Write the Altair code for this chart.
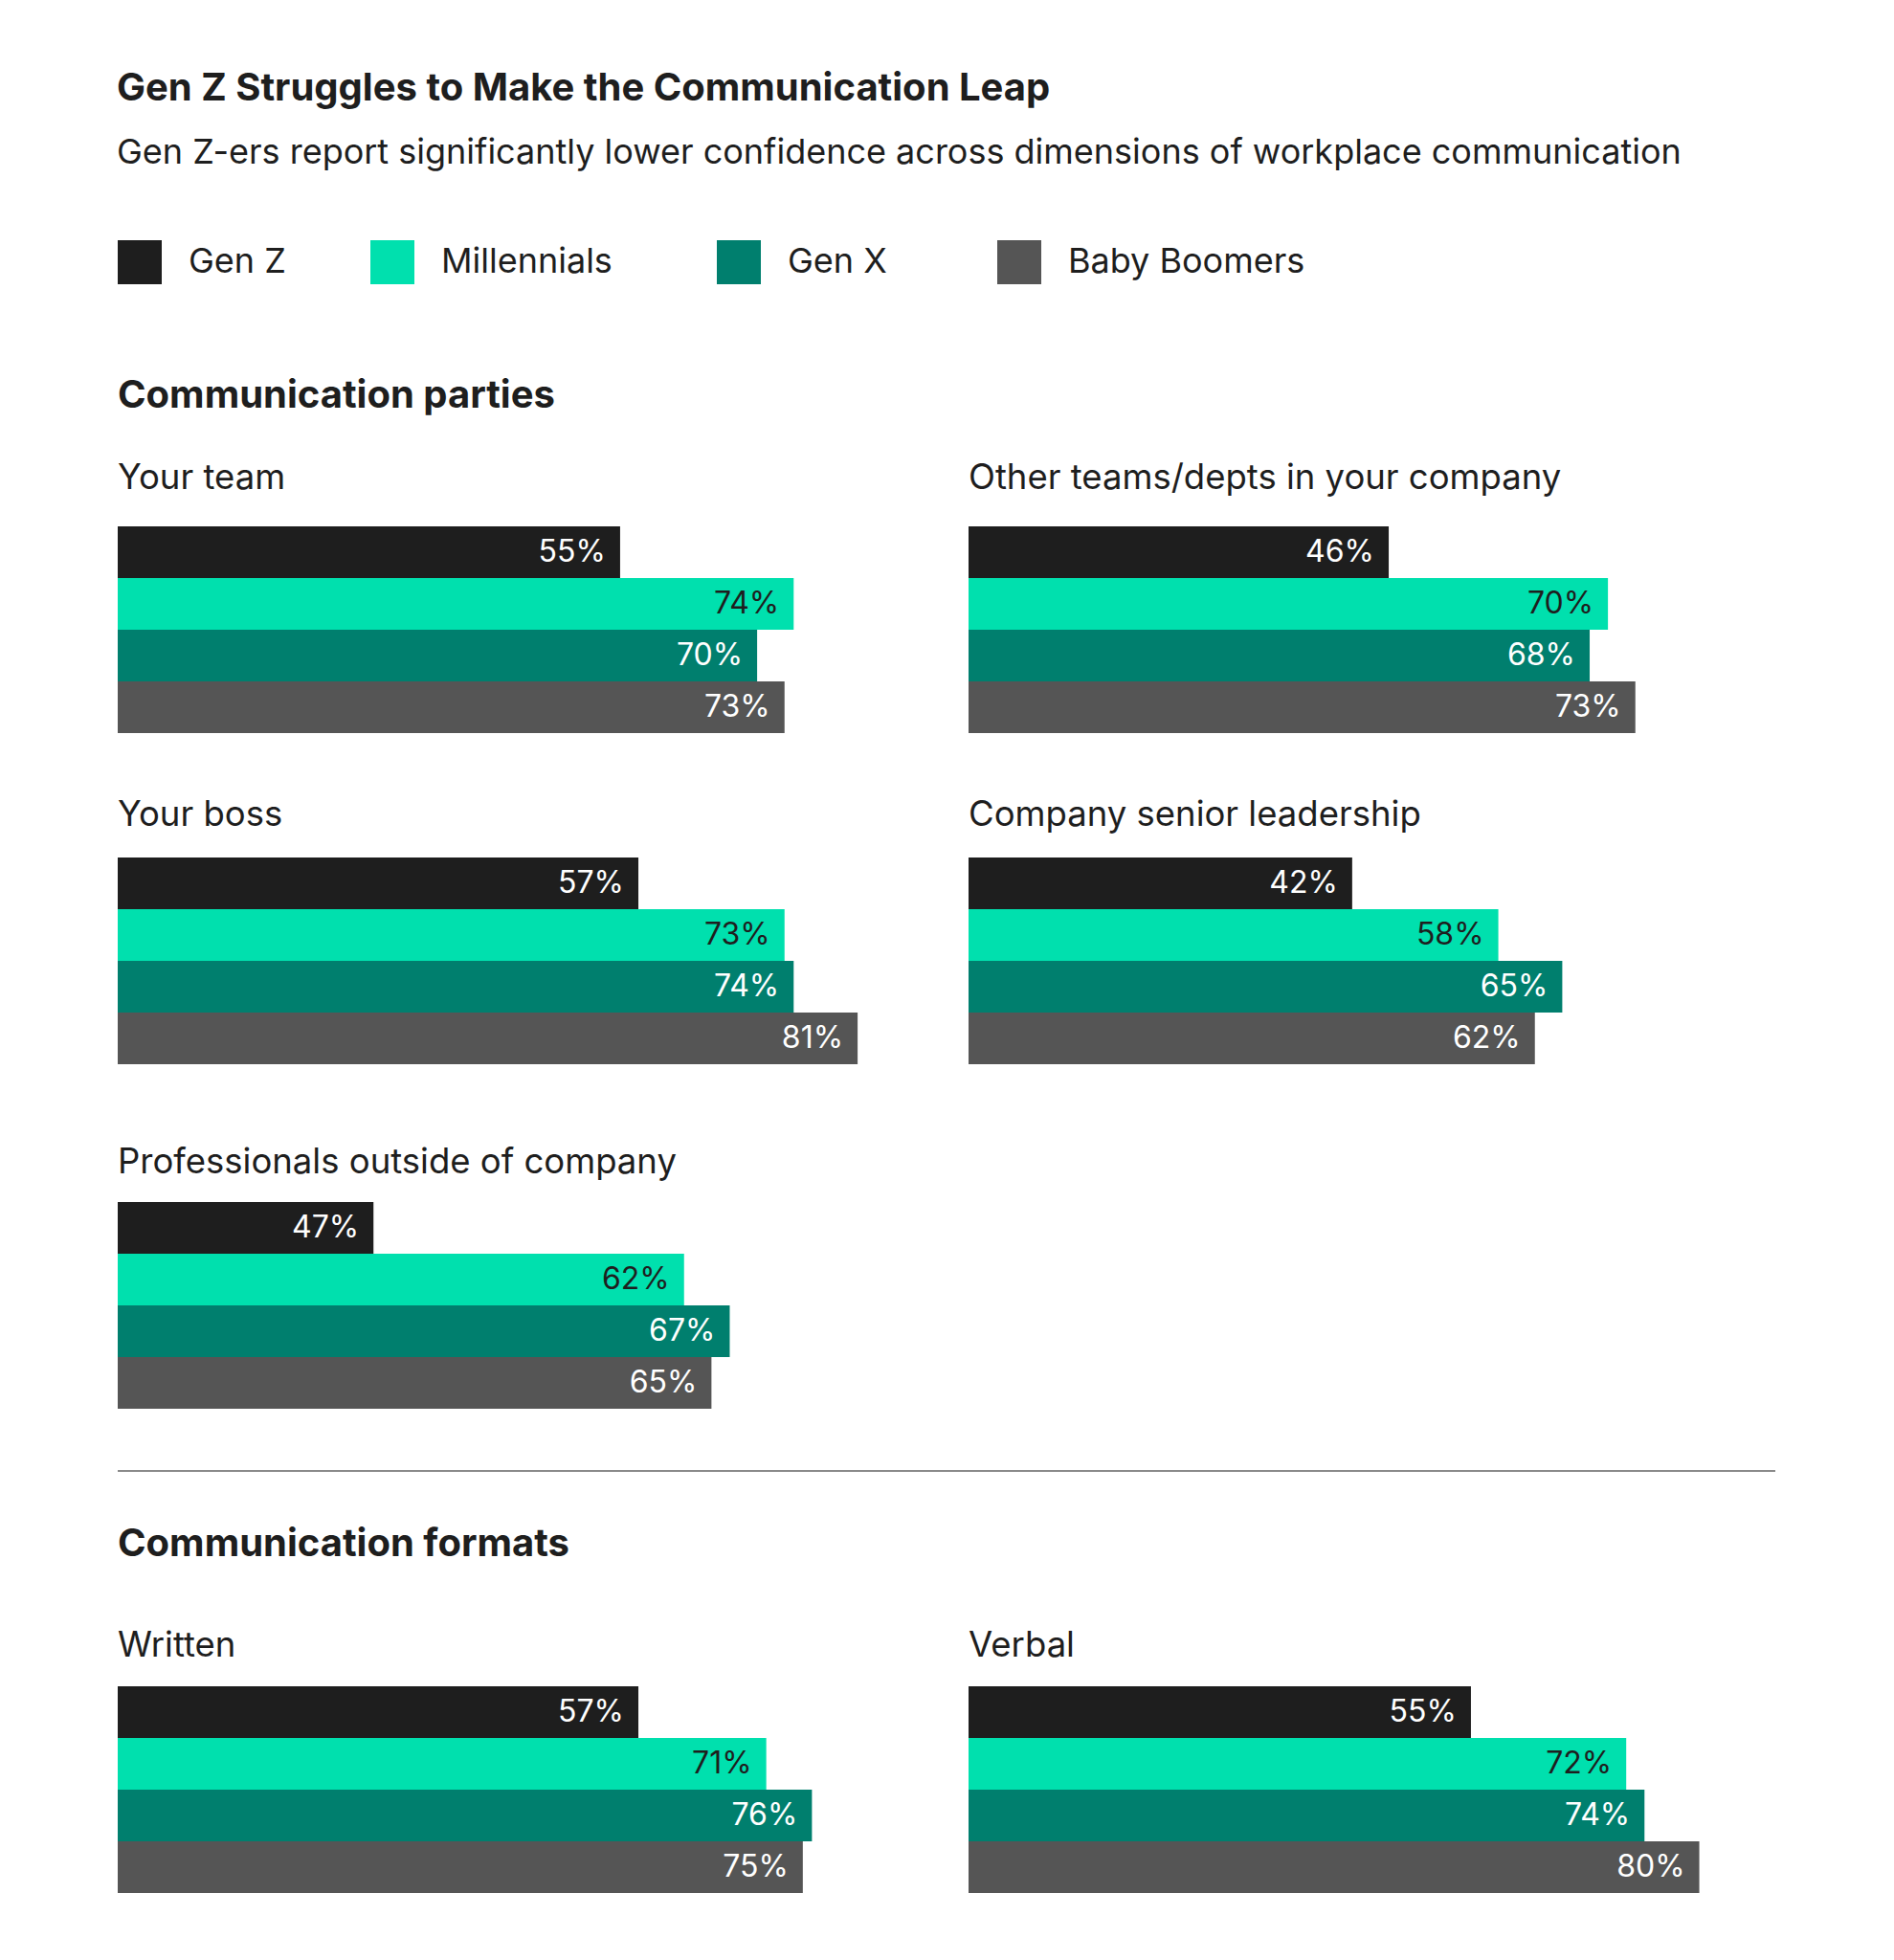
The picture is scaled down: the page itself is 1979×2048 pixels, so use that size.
import altair as alt
import pandas as pd

# ---------------- data ----------------
generations = ["Gen Z", "Millennials", "Gen X", "Baby Boomers"]
gen_colors = ["#1e1e1e", "#00e0ae", "#007f6e", "#555555"]

chart_title = "Gen Z Struggles to Make the Communication Leap"
chart_subtitle = "Gen Z-ers report significantly lower confidence across dimensions of workplace communication"
section_titles = ["Communication parties", "Communication formats"]

panel_names = [
    "Your team",
    "Other teams/depts in your company",
    "Your boss",
    "Company senior leadership",
    "Professionals outside of company",
    "Written",
    "Verbal",
]

# printed percentages
your_team = [55, 74, 70, 73]
other_teams = [46, 70, 68, 73]
your_boss = [57, 73, 74, 81]
senior_leadership = [42, 58, 65, 62]
professionals_outside = [47, 62, 67, 65]
written = [57, 71, 76, 75]
verbal = [55, 72, 74, 80]

# drawn bar length where the picture differs from the printed label
professionals_outside_drawn = [28, 62, 67, 65]

# ---------------- style ----------------
FONT = "Inter"
INK = "#1e1e1e"
PANEL_W = 859
PANEL_H = 216
COL_GAP = 30

# extra (non-trimmed) spacing after some legend labels
legend_label_expr = (
    "datum.label == 'Millennials' ? 'Millennials\u00a0\u00a0\u200b' : "
    "datum.label == 'Gen X' ? 'Gen X\u00a0\u00a0\u2009\u200b' : datum.label"
)


def panel(name, values, drawn=None, title_offset=0):
    if drawn is None:
        drawn = values
    df = pd.DataFrame({
        "gen": generations,
        "value": drawn,
        "label": [f"{v}%" for v in values],
    })
    base = alt.Chart(df).encode(
        y=alt.Y("gen:N", sort=generations, axis=None,
                scale=alt.Scale(paddingInner=0, paddingOuter=0)),
        x=alt.X("value:Q", axis=None,
                scale=alt.Scale(domain=[0, 90], nice=False, zero=True)),
    )
    bars = base.mark_bar().encode(
        color=alt.Color(
            "gen:N",
            sort=generations,
            scale=alt.Scale(domain=generations, range=gen_colors),
            legend=alt.Legend(
                title=None, orient="top", direction="horizontal",
                symbolType="square", symbolSize=2116, symbolStrokeWidth=0,
                symbolOpacity=1, labelFont=FONT, labelFontSize=36,
                labelColor=INK, labelOffset=28, columnPadding=88,
                labelLimit=0, offset=96, labelExpr=legend_label_expr,
            ),
        )
    )
    text = base.mark_text(
        align="right", baseline="middle", dx=-15, font=FONT, fontSize=32
    ).encode(
        text="label:N",
        color=alt.condition(alt.datum.gen == "Millennials",
                            alt.value(INK), alt.value("#ffffff")),
    )
    return alt.layer(bars, text).properties(
        width=PANEL_W, height=PANEL_H,
        title=alt.TitleParams(name, anchor="start", font=FONT, fontSize=36.5,
                              fontWeight="normal", color=INK,
                              offset=title_offset, baseline="alphabetic"),
    )


def section_title(text, offset):
    return alt.TitleParams(text, anchor="start", font=FONT, fontSize=40,
                           fontWeight="bold", color=INK, offset=offset,
                           baseline="alphabetic")


row1 = alt.hconcat(panel(panel_names[0], your_team, title_offset=3),
                   panel(panel_names[1], other_teams, title_offset=3),
                   spacing=COL_GAP)
row2 = alt.hconcat(panel(panel_names[2], your_boss, title_offset=-3),
                   panel(panel_names[3], senior_leadership, title_offset=-3),
                   spacing=COL_GAP)
row3 = panel(panel_names[4], professionals_outside, professionals_outside_drawn,
             title_offset=-6)
row4 = alt.hconcat(panel(panel_names[5], written, title_offset=-5),
                   panel(panel_names[6], verbal, title_offset=-5),
                   spacing=COL_GAP)

section1 = alt.vconcat(
    alt.vconcat(row1, row2, spacing=67),
    row3,
    spacing=84,
    title=section_title(section_titles[0], 16),
)
section2 = alt.vconcat(row4, title=section_title(section_titles[1], 36))

sep = alt.Chart(pd.DataFrame({"a": [0]})).mark_rule(
    color="#8a8a8a", strokeWidth=2
).encode(
    x=alt.value(0), x2=alt.value(1732), y=alt.value(0)
).properties(width=1732, height=1)

chart = alt.vconcat(
    alt.vconcat(section1, sep, spacing=64),
    section2,
    spacing=55,
).properties(
    title=alt.TitleParams(
        chart_title, subtitle=chart_subtitle, anchor="start",
        font=FONT, fontSize=40, fontWeight="bold", color=INK,
        subtitleFont=FONT, subtitleFontSize=36, subtitleFontWeight="normal",
        subtitleColor=INK, subtitlePadding=30, offset=73,
    ),
    padding={"left": 122, "top": 73, "right": 20, "bottom": 20},
    background="white",
).resolve_scale(color="shared").configure_view(stroke=None)

chart.save("out.html", embed_options={"renderer": "svg", "actions": False})
